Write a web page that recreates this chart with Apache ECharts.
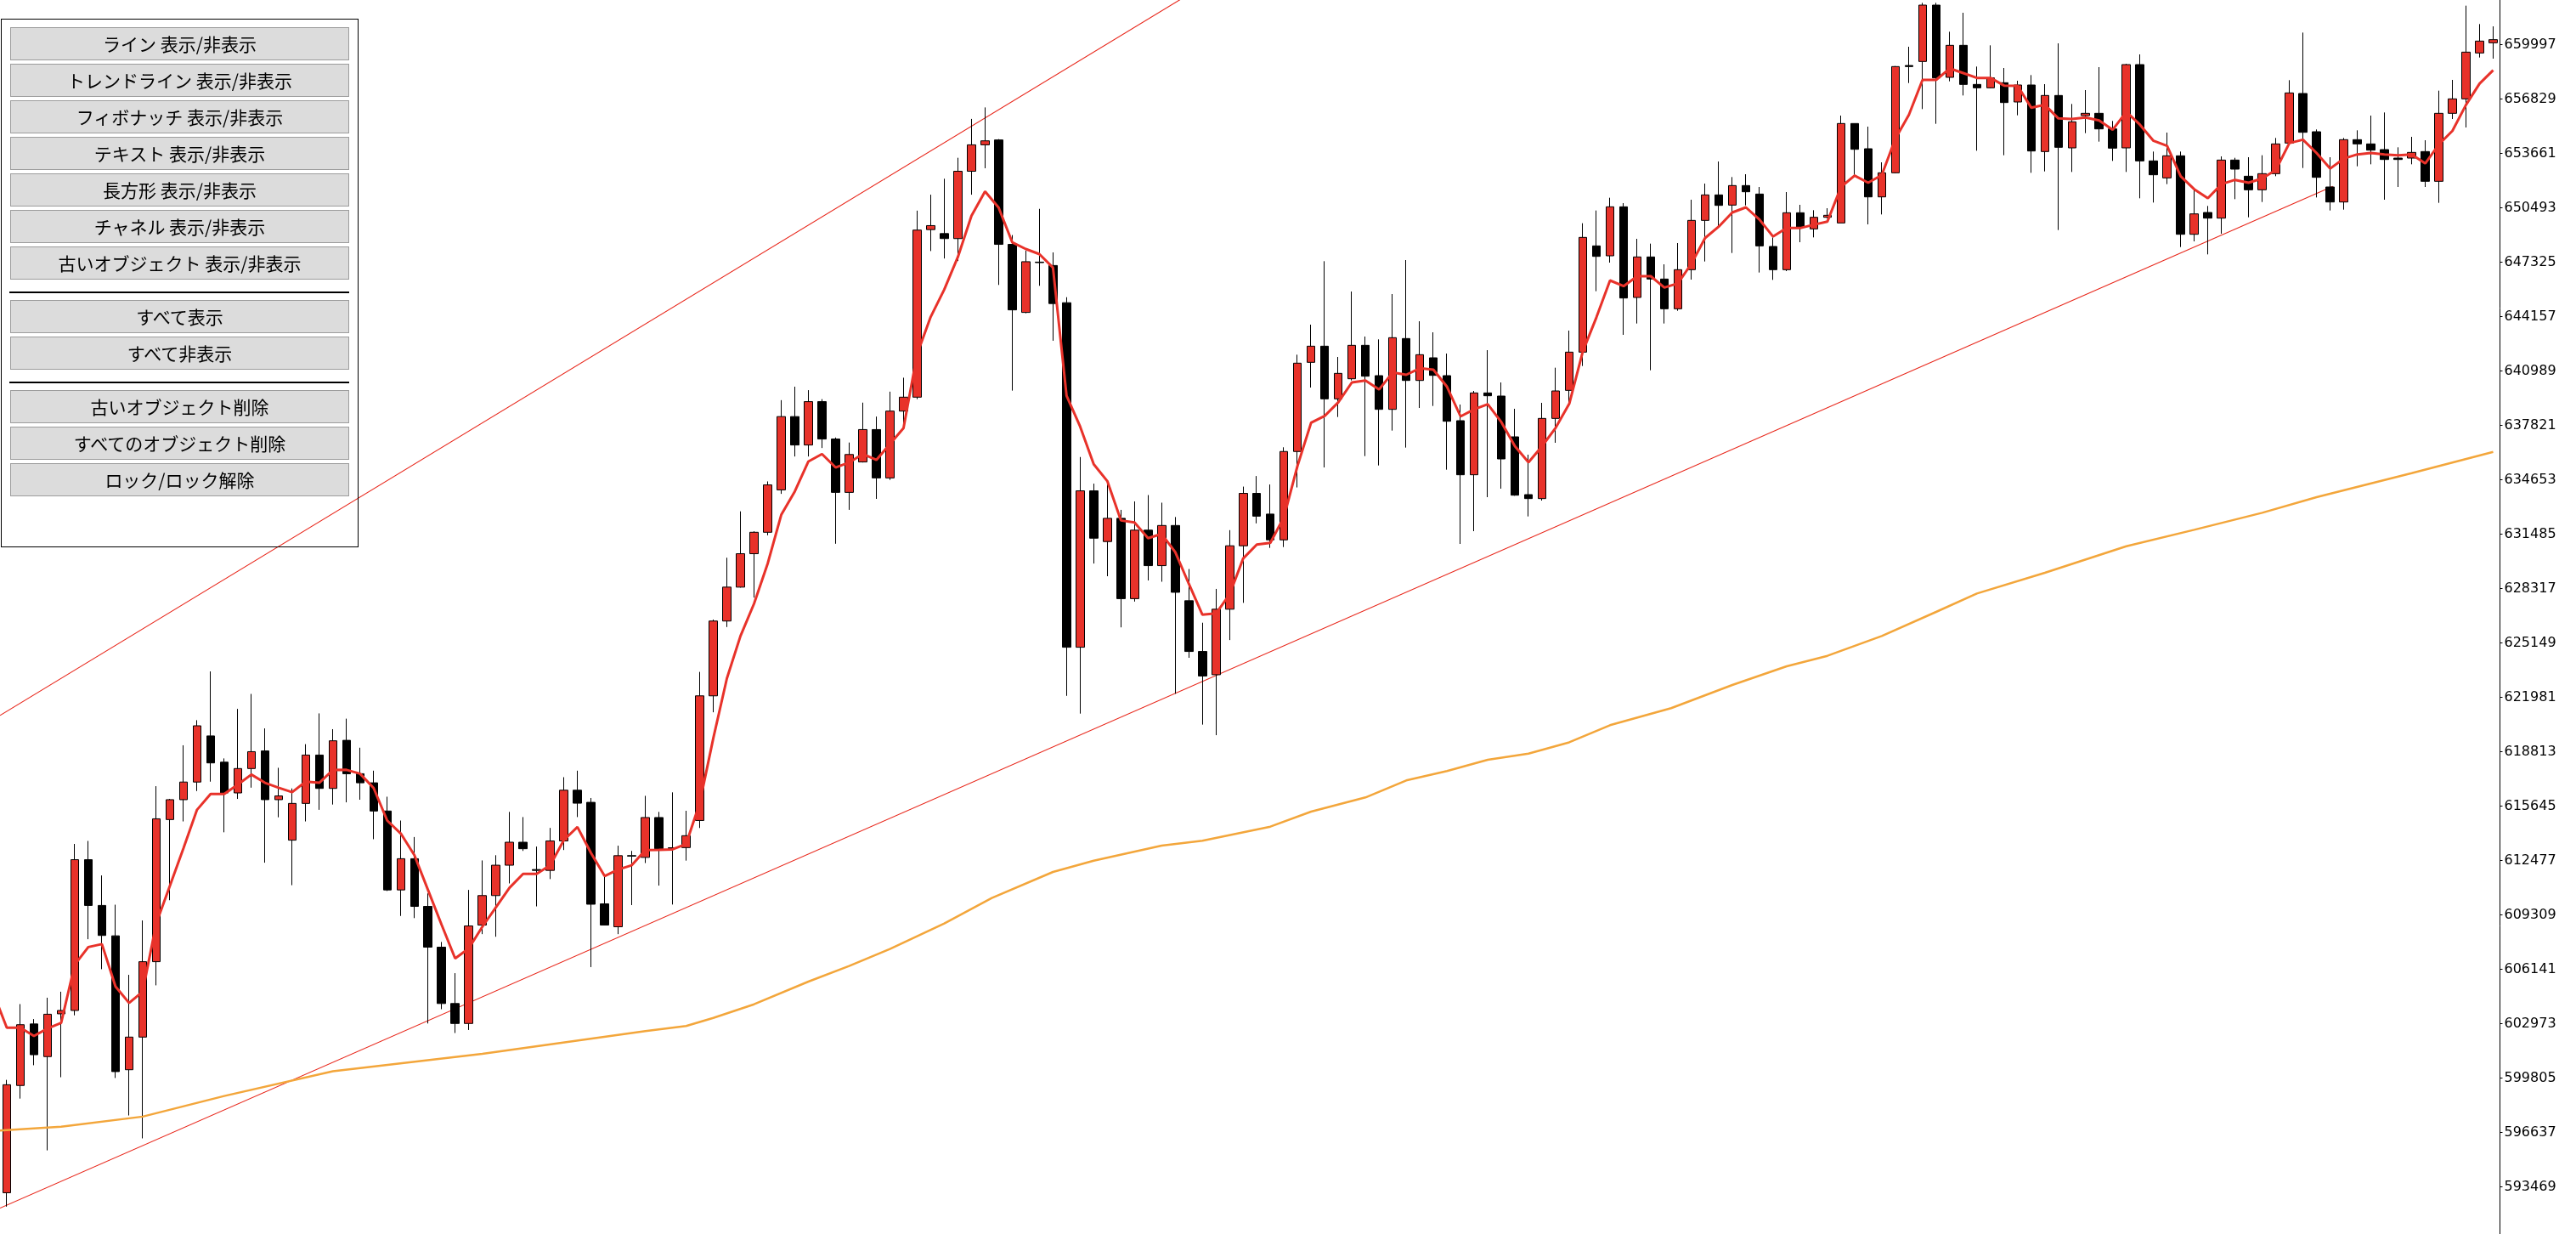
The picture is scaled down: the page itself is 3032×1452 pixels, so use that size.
<!DOCTYPE html>
<html><head><meta charset="utf-8">
<script src="https://cdn.jsdelivr.net/npm/echarts@6/dist/echarts.min.js"></script>
<style>
html,body{margin:0;padding:0;background:#fff;}
#chart{position:absolute;left:0;top:0;width:3032px;height:1452px;}
.box{position:absolute;left:1px;top:22px;width:421px;height:622px;box-sizing:border-box;border:1px solid #000;}
.btn{position:absolute;left:12px;width:399px;height:39px;box-sizing:border-box;border:1px solid #9c9c9c;background:#dcdcdc;
 font-family:"Noto Sans CJK JP",sans-serif;font-size:21px;color:#000;text-align:center;line-height:37px;white-space:nowrap;}
.sep{position:absolute;left:11px;width:400px;height:2px;background:#000;}
</style></head>
<body>
<div id="chart"></div>
<div class="box"></div>
<div id="buttons"></div>
<script>
// ---- data ----
const buttonLabels1 = ['ライン 表示/非表示','トレンドライン 表示/非表示','フィボナッチ 表示/非表示','テキスト 表示/非表示','長方形 表示/非表示','チャネル 表示/非表示','古いオブジェクト 表示/非表示'];
const buttonLabels2 = ['すべて表示','すべて非表示'];
const buttonLabels3 = ['古いオブジェクト削除','すべてのオブジェクト削除','ロック/ロック解除'];

const yTicks = [593469,596637,599805,602973,606141,609309,612477,615645,618813,621981,625149,628317,631485,634653,637821,640989,644157,647325,650493,653661,656829,659997];
const yMin = 590722, yMax = 662596;

// [open, close, low, high]
const candles = [
[593125,599416,592316,599700],[599372,602912,598608,604113],[602955,601164,600552,603239],[601055,603523,595593,604484],
[603545,603742,599853,604834],[603742,612524,603458,613441],[612524,609859,607892,613616],[609859,608111,606145,611606],
[608089,600181,599809,609902],[600290,602191,597625,605817],[602191,606582,596292,608985],[606582,614905,605205,616806],
[614861,616019,610164,616063],[616019,617046,614752,619187],[617046,620323,616522,620650],[619733,618160,617068,623490],
[618204,616412,614119,618422],[616412,617832,616063,621306],[617832,618815,616718,622180],[618859,616019,612349,620170],
[616019,616238,614992,617876],[613660,615801,611038,616675],[615801,618619,614752,619252],[618619,616675,615429,621044],
[616675,619449,615735,620126],[619476,617531,615864,620738],[617531,617001,616016,619046],[617001,615359,613717,617708],
[615359,610763,610700,616192],[610763,612581,609247,614803],[612581,609803,609121,613844],[609803,607429,602984,610561],
[607429,604146,603817,607732],[604146,602984,602428,605914],[602984,608666,602605,610763],[608717,610434,608187,612480],
[610434,612202,608035,612783],[612202,613541,611141,615308],[613541,613162,613035,615005],[611950,611899,609803,613288],
[611899,613616,611394,614374],[613616,616571,613086,617329],[616571,615814,615005,617708],[615864,609929,606267,616117],
[609954,608717,608700,611520],[608616,612758,608187,613339],[612760,612732,609879,613035],[612657,614980,612328,616243],
[614980,613162,611015,615308],[613220,613178,609911,616445],[613228,613921,612469,615373],[614806,622067,614370,623461],
[622067,626424,621109,626511],[626424,628399,626075,630112],[628399,630345,628370,632813],[630345,631594,627789,631652],
[631594,634353,631419,634556],[634062,638332,633830,639290],[638332,636676,636008,640074],[636676,639203,636008,639871],
[639203,637025,636502,639348],[637025,633917,630926,637112],[633917,636124,632901,636821],[635689,637577,635660,639145],
[637577,634759,633539,638332],[634759,638651,634643,639784],[638651,639464,637751,640597],[639464,649194,639348,650327],
[649223,649456,647974,651256],[648991,648700,647539,652186],[648700,652621,647393,653406],[652621,654161,651256,655671],
[654161,654393,652796,656339],[654445,648363,645999,654494],[648363,644547,639844,648905],[644399,647354,644350,647994],
[647330,647300,645950,650431],[647132,644916,642749,647895],[644965,624897,622066,645285],[624897,634008,621032,635978],
[634008,631250,629773,634427],[631053,632407,629034,634377],[632407,627729,626055,632900],[627729,631718,627557,633392],
[631718,629650,628788,633762],[629650,631989,628714,633318],[631989,628098,622189,632481],[627606,624651,624282,629453],
[624651,623223,620391,626326],[623297,627113,619776,628295],[627113,630807,625316,631718],[630807,633860,627483,634254],
[633860,632531,632112,634870],[632654,631152,630684,634377],[631152,636298,630733,636544],[636298,641444,634205,641937],
[641492,642433,640024,643687],[642433,639364,635371,647383],[639364,640849,638308,641806],[640535,642482,640436,645617],
[642482,640684,636031,642994],[640717,638753,635486,642829],[638753,642928,637516,645469],[642878,640436,636526,647449],
[640436,641938,638836,643885],[641756,640733,638951,643241],[640717,638060,635239,642004],[638093,634942,630916,639034],
[634942,639710,631658,639826],[639710,639545,633638,642202],[639529,635866,634133,640321],[637153,633754,633721,638786],
[633787,633556,632516,636113],[633556,638225,633440,639133],[638225,639826,636806,641179],[639859,642086,639166,643340],
[642086,648769,641278,649594],[648274,647663,645634,650336],[647696,650551,647300,651079],[650551,645238,643093,650765],
[645271,647630,643753,648686],[647630,646343,641030,648406],[646343,644611,643753,647201],[644611,646888,644495,648439],
[646888,649759,646310,650963],[649759,651244,647366,651904],[651244,650633,649396,653191],[650650,651788,647861,652283],
[651788,651425,650633,652448],[651293,648274,646723,651706],[648241,646888,646294,648769],[646888,650204,646805,651409],
[650204,649363,648488,650666],[649264,649940,648769,650353],[649940,650056,649891,650468],[649610,655402,649610,655864],
[655402,653900,652415,655402],[653933,651128,649528,655220],[651128,652531,650105,653141],[652531,658718,652500,658750],
[658780,658720,657761,659873],[659015,662299,656243,662431],[662299,658058,655385,662431],[658091,659956,657860,660748],
[659956,657679,657035,661853],[657679,657481,653818,658718],[657481,658058,657450,659956],[657778,656623,653554,658636],
[656656,657646,655880,657893],[657646,653801,652531,658223],[653768,657035,652613,657695],[657035,654016,649198,660071],
[653983,655501,652580,656540],[655864,655996,654841,657349],[655996,655088,654346,658685],[655088,653966,653224,655550],
[653983,658834,652580,658883],[658834,653224,651046,659428],[653224,652415,650798,653768],[652234,653521,651871,654874],
[653521,648950,648208,653768],[648950,650138,648538,651541],[650221,649891,647779,650600],[649891,653273,648983,653488],
[653273,652745,650996,653405],[652333,651541,649940,653438],[651541,652481,650831,653554],[652481,654214,652333,654560],
[654263,657184,654230,657926],[657151,654890,652811,660698],[654923,652267,651095,655055],[651706,650831,650336,653438],
[650831,654461,650386,654560],[654461,654214,652910,655006],[654214,653851,653026,655864],[653884,653306,650963,656045],
[653389,653306,651706,654016],[653389,653719,653026,654626],[653768,652036,651706,654428],[652036,655996,650782,657316],
[655996,656837,655666,657943],[656837,659560,655171,662266],[659510,660203,659246,661193],[660104,660286,659180,661061]
];
const categories = candles.map((_, i) => String(i + 1));

// short moving average (red), read per bar, starting one bar before the first visible bar
const maRed = [604780,
602737,602737,602256,602693,603021,606407,607434,607608,605140,604179,604834,608810,610995,613179,615429,616347,
616347,616893,617483,617002,616718,616456,617068,617002,617750,617758,617531,616697,614803,614046,612783,610763,
608742,606772,607353,608616,609752,610889,611697,611697,612202,613667,614425,612909,611571,611950,612202,613086,
613100,613122,613441,615823,619598,623084,625552,627440,629764,632610,633975,635718,636153,635369,635660,636153,
635805,636734,637664,641962,644141,645738,647626,650020,651450,650505,648486,648092,647797,647009,639548,637751,
635559,634574,632284,632161,631250,631496,630438,628591,626793,626867,627975,630068,630881,630979,632481,635470,
637978,638374,639166,640321,640436,639908,640898,640766,641146,641063,640073,638341,638753,639050,638011,636608,
635668,636608,637681,639083,642136,644116,646261,645931,646508,646508,645848,646096,647251,648736,649396,650221,
650518,649808,648818,649313,649313,649511,649693,651706,652366,651953,652399,654511,655913,657943,657943,658610,
658339,658058,658058,657613,657596,656326,656491,655699,655666,655748,655583,655039,656078,655336,654395,654098,
652333,651574,651046,651871,652118,651953,652201,652696,654263,654461,653686,652778,653356,653603,653686,653603,
653554,653603,653075,654181,654973,656491,657728,658504];

// long moving average (orange), read at bar positions [bar, value]
const maOrange = [[-0.5,596750],[4,596969],[10,597559],[16,598761],[24,600200],[35,601216],[47,602538],[50,602835],
[52,603310],[55,604102],[59,605424],[62,606330],[65,607320],[69,608805],[72.5,610290],[77,611809],[80,612468],
[85,613344],[88,613626],[93,614448],[96,615324],[100,616150],[103,617140],[106,617685],[109,618343],[112,618705],
[115,619360],[118,620358],[122.5,621348],[127,622699],[131,623788],[134,624397],[138,625554],[142,626956],[145,628028],
[150,629231],[156,630781],[161,631739],[166,632729],[170,633637],[177,635039],[183,636278]];

// trend lines [bar, value]
const trendUpper = [[-0.5,620925],[100,669165]];
const trendLower = [[-0.5,592231],[171.2,651740]];

// ---- panel ----
(function(){
  const host = document.getElementById('buttons');
  const tops1 = [32,75,118,161,204,247,290], tops2 = [353,396], tops3 = [459,502,545];
  function add(labels, tops){ labels.forEach((t,k)=>{ const d=document.createElement('div'); d.className='btn'; d.style.top=tops[k]+'px'; d.textContent=t; host.appendChild(d); }); }
  add(buttonLabels1, tops1); add(buttonLabels2, tops2); add(buttonLabels3, tops3);
  [343,449].forEach(y=>{ const s=document.createElement('div'); s.className='sep'; s.style.top=y+'px'; host.appendChild(s); });
})();

// ---- chart ----
const chart = echarts.init(document.getElementById('chart'), null, {renderer:'canvas'});
const RED = '#e8322a';
chart.setOption({
  animation: false,
  backgroundColor: '#ffffff',
  grid: {left: -1.5, right: 89.5, top: 0, bottom: 0},
  xAxis: [
    {type:'category', data: categories, boundaryGap: true, show: false},
    {type:'value', min: -0.5, max: candles.length - 0.5, show: false}
  ],
  yAxis: {
    type:'value', position:'right', min: yMin, max: yMax, scale: true,
    splitLine:{show:false},
    axisLine:{show:true, onZero:false, lineStyle:{color:'#000', width:1}},
    axisTick:{show:true, length:3, customValues: yTicks, lineStyle:{color:'#000', width:1}},
    axisLabel:{show:true, customValues: yTicks, margin:5, color:'#000', fontFamily:'DejaVu Sans', fontSize:16,
      formatter: v => String(v)}
  },
  series: [
    {type:'line', xAxisIndex:1, data: trendUpper, showSymbol:false, silent:true, z:1,
      lineStyle:{color:'#e8261a', width:1.1}},
    {type:'line', xAxisIndex:1, data: trendLower, showSymbol:false, silent:true, z:1,
      lineStyle:{color:'#e8261a', width:1.1}},
    {type:'candlestick', xAxisIndex:0, data: candles, barWidth: 10, z:2,
      itemStyle:{color: RED, color0:'#000000', borderColor:'#000000', borderColor0:'#000000', borderWidth:1}},
    {type:'line', xAxisIndex:1, data: maOrange, showSymbol:false, silent:true, z:3,
      lineStyle:{color:'#f3a63b', width:2.5}},
    {type:'line', xAxisIndex:1, data: maRed.map((v,k)=>[k-1, v]), showSymbol:false, silent:true, z:4,
      lineStyle:{color: RED, width:3}}
  ]
});
</script>
</body></html>
